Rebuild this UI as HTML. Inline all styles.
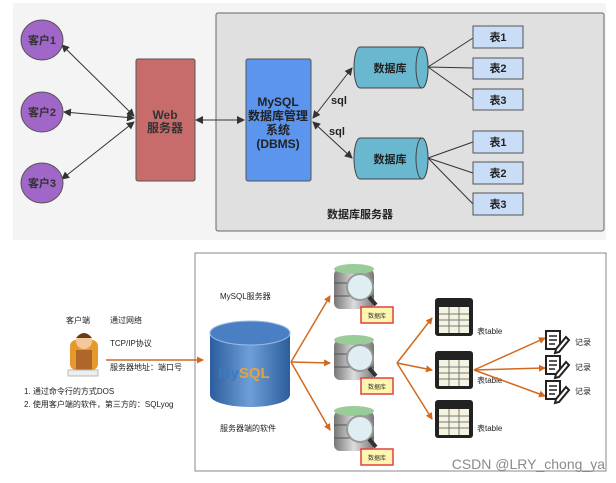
<!DOCTYPE html>
<html><head><meta charset="utf-8"><style>
html,body{margin:0;padding:0;background:#fff;}
svg{display:block;font-family:"Liberation Sans","Noto Sans CJK SC",sans-serif;}
</style></head><body>
<svg width="616" height="483" viewBox="0 0 616 483" xmlns="http://www.w3.org/2000/svg">
<defs>
<marker id="a" markerWidth="8" markerHeight="8" refX="7" refY="4" orient="auto-start-reverse" markerUnits="userSpaceOnUse"><path d="M0,0 L8,4 L0,8 z" fill="#333"/></marker>
<marker id="o" markerWidth="7" markerHeight="7" refX="6" refY="3.5" orient="auto" markerUnits="userSpaceOnUse"><path d="M0,0 L7,3.5 L0,7 z" fill="#d2691e"/></marker>
<linearGradient id="cyl" x1="0" x2="1"><stop offset="0" stop-color="#2c5d9c"/><stop offset="0.5" stop-color="#6f9fd8"/><stop offset="1" stop-color="#2c5d9c"/></linearGradient>
<linearGradient id="srv" x1="0" x2="1"><stop offset="0" stop-color="#777"/><stop offset="0.5" stop-color="#ddd"/><stop offset="1" stop-color="#777"/></linearGradient>
<g id="db">
<rect x="0" y="6" width="40" height="40" rx="6" fill="url(#srv)"/>
<ellipse cx="20" cy="6" rx="20" ry="5" fill="#9c9"/>
<line x1="0" y1="20" x2="40" y2="20" stroke="#555"/><line x1="0" y1="33" x2="40" y2="33" stroke="#555"/>
<circle cx="26" cy="24" r="13" fill="#dfeef2" stroke="#999" stroke-width="2"/>
<line x1="35" y1="34" x2="42" y2="42" stroke="#333" stroke-width="4"/>
<rect x="27" y="44" width="32" height="16" fill="#fff7b0" stroke="#e04040" stroke-width="1.5"/>
<text x="43" y="55" font-size="6" text-anchor="middle" fill="#333">数据库</text>
</g>
<g id="tb">
<rect x="0" y="0" width="38" height="38" rx="3" fill="#222"/>
<rect x="4" y="9" width="30" height="26" fill="#f4f4e0"/>
<path d="M4,16H34M4,22H34M4,28H34M14,9V35M24,9V35" stroke="#777" stroke-width="1"/>
</g>
<g id="rc">
<rect x="0" y="0" width="14" height="18" fill="#fff" stroke="#222" stroke-width="2"/>
<path d="M3,5H11M3,9H11M3,13H9" stroke="#222" stroke-width="1.5"/>
<path d="M10,18 L20,6 L23,9 L13,21 L9,22 z" fill="#fff" stroke="#222" stroke-width="2"/>
</g>
</defs>
<rect x="13" y="3" width="593" height="237" fill="#f4f4f4"/>
<rect x="216" y="13" width="388" height="218" rx="2" fill="#e0e0e0" stroke="#666" stroke-width="1"/>
<g stroke="#333" stroke-width="1" fill="none">
<line x1="62" y1="45" x2="134" y2="116" marker-start="url(#a)" marker-end="url(#a)"/>
<line x1="64" y1="112" x2="134" y2="118" marker-start="url(#a)" marker-end="url(#a)"/>
<line x1="62" y1="179" x2="134" y2="122" marker-start="url(#a)" marker-end="url(#a)"/>
<line x1="196" y1="120" x2="244" y2="120" marker-start="url(#a)" marker-end="url(#a)"/>
<line x1="313" y1="118" x2="352" y2="68" marker-start="url(#a)" marker-end="url(#a)"/>
<line x1="313" y1="122" x2="352" y2="158" marker-start="url(#a)" marker-end="url(#a)"/>
<path d="M428,67 L473,38 M428,67 L473,68 M428,67 L473,99 M428,158 L473,142 M428,158 L473,173 M428,158 L473,204"/>
</g>
<g fill="#a066c8" stroke="#555">
<ellipse cx="42" cy="40" rx="21" ry="20"/><ellipse cx="42" cy="112" rx="21" ry="20"/><ellipse cx="42" cy="183" rx="21" ry="20"/>
</g>
<g font-size="11" fill="#333" text-anchor="middle" font-weight="bold">
<text x="42" y="44">客户1</text><text x="42" y="116">客户2</text><text x="42" y="187">客户3</text>
</g>
<rect x="136" y="59" width="59" height="122" rx="2" fill="#c76b6b" stroke="#555"/>
<text x="165" y="119" font-size="12" font-weight="bold" fill="#333" text-anchor="middle">Web</text>
<text x="165" y="132" font-size="12" font-weight="bold" fill="#333" text-anchor="middle">服务器</text>
<rect x="246" y="59" width="65" height="122" rx="2" fill="#5b95ee" stroke="#555"/>
<g font-size="12" fill="#222" text-anchor="middle" font-weight="bold"><text x="278" y="106">MySQL</text><text x="278" y="120">数据库管理</text><text x="278" y="134">系统</text><text x="278" y="148">(DBMS)</text></g>
<text x="339" y="104" font-size="11" fill="#222" text-anchor="middle" font-weight="bold">sql</text>
<text x="337" y="135" font-size="11" fill="#222" text-anchor="middle" font-weight="bold">sql</text>
<g fill="#69b8d0" stroke="#444">
<path d="M360,47 H422 A6,20.5 0 0 1 422,88 H360 A6,20.5 0 0 1 360,47 z"/><ellipse cx="422" cy="67.5" rx="6" ry="20.5"/>
<path d="M360,138 H422 A6,20.5 0 0 1 422,179 H360 A6,20.5 0 0 1 360,138 z"/><ellipse cx="422" cy="158.5" rx="6" ry="20.5"/>
</g>
<text x="390" y="72" font-size="11" fill="#222" text-anchor="middle" font-weight="bold">数据库</text>
<text x="390" y="163" font-size="11" fill="#222" text-anchor="middle" font-weight="bold">数据库</text>
<g fill="#c9ddf7" stroke="#555">
<rect x="473" y="26" width="50" height="22"/><rect x="473" y="58" width="50" height="21"/><rect x="473" y="89" width="50" height="21"/>
<rect x="473" y="131" width="50" height="22"/><rect x="473" y="162" width="50" height="22"/><rect x="473" y="193" width="50" height="22"/>
</g>
<g font-size="11" fill="#222" text-anchor="middle" font-weight="bold">
<text x="498" y="41">表1</text><text x="498" y="72">表2</text><text x="498" y="104">表3</text>
<text x="498" y="146">表1</text><text x="498" y="177">表2</text><text x="498" y="208">表3</text>
</g>
<text x="360" y="218" font-size="11" fill="#222" text-anchor="middle" font-weight="bold">数据库服务器</text>
<rect x="195" y="253" width="411" height="218" fill="#fff" stroke="#888"/>
<g font-size="8" fill="#222">
<text x="220" y="299">MySQL服务器</text>
<text x="66" y="323">客户端</text><text x="110" y="323">通过网络</text>
<text x="110" y="346">TCP/IP协议</text><text x="110" y="370">服务器地址：端口号</text>
<text x="24" y="394">1. 通过命令行的方式DOS</text><text x="24" y="407">2. 使用客户端的软件，第三方的：SQLyog</text>
<text x="220" y="431">服务器端的软件</text>
<text x="477" y="334">表table</text><text x="477" y="383">表table</text><text x="477" y="431">表table</text>
<text x="575" y="345">记录</text><text x="575" y="370">记录</text><text x="575" y="394">记录</text>
</g>
<rect x="70" y="340" width="28" height="30" rx="6" fill="#e39a2a"/>
<rect x="76" y="350" width="16" height="20" fill="#b0652a"/>
<circle cx="84" cy="341" r="8" fill="#f3c89b"/>
<path d="M76,338 Q84,328 92,338 Z" fill="#6b3a1b"/>
<rect x="68" y="370" width="30" height="6" fill="#eee" stroke="#bbb"/>
<line x1="106" y1="360" x2="203" y2="360" stroke="#d2691e" stroke-width="1.5" marker-end="url(#o)"/>
<path d="M210,333 V395 A40,12 0 0 0 290,395 V333 Z" fill="url(#cyl)"/>
<ellipse cx="250" cy="333" rx="40" ry="12" fill="#4a7fc4" stroke="#9bbbe6"/>
<text x="218" y="378" font-size="15" font-weight="bold" fill="#3a78c0">My<tspan fill="#e6a23c">SQL</tspan></text>
<g stroke="#d2691e" stroke-width="1.5" fill="none">
<line x1="291" y1="362" x2="330" y2="296" marker-end="url(#o)"/>
<line x1="291" y1="362" x2="330" y2="363" marker-end="url(#o)"/>
<line x1="291" y1="362" x2="330" y2="430" marker-end="url(#o)"/>
<line x1="397" y1="363" x2="432" y2="318" marker-end="url(#o)"/>
<line x1="397" y1="363" x2="432" y2="370" marker-end="url(#o)"/>
<line x1="397" y1="363" x2="432" y2="419" marker-end="url(#o)"/>
<line x1="474" y1="370" x2="545" y2="338" marker-end="url(#o)"/>
<line x1="474" y1="370" x2="545" y2="368" marker-end="url(#o)"/>
<line x1="474" y1="370" x2="545" y2="396" marker-end="url(#o)"/>
</g>
<use href="#db" x="334" y="263"/><use href="#db" x="334" y="334"/><use href="#db" x="334" y="405"/>
<use href="#tb" x="435" y="298"/><use href="#tb" x="435" y="351"/><use href="#tb" x="435" y="400"/>
<use href="#rc" x="546" y="331"/><use href="#rc" x="546" y="356"/><use href="#rc" x="546" y="381"/>
<text x="605" y="469" font-size="14" fill="#8a8a8a" text-anchor="end">CSDN @LRY_chong_ya</text>
</svg>
</body></html>
